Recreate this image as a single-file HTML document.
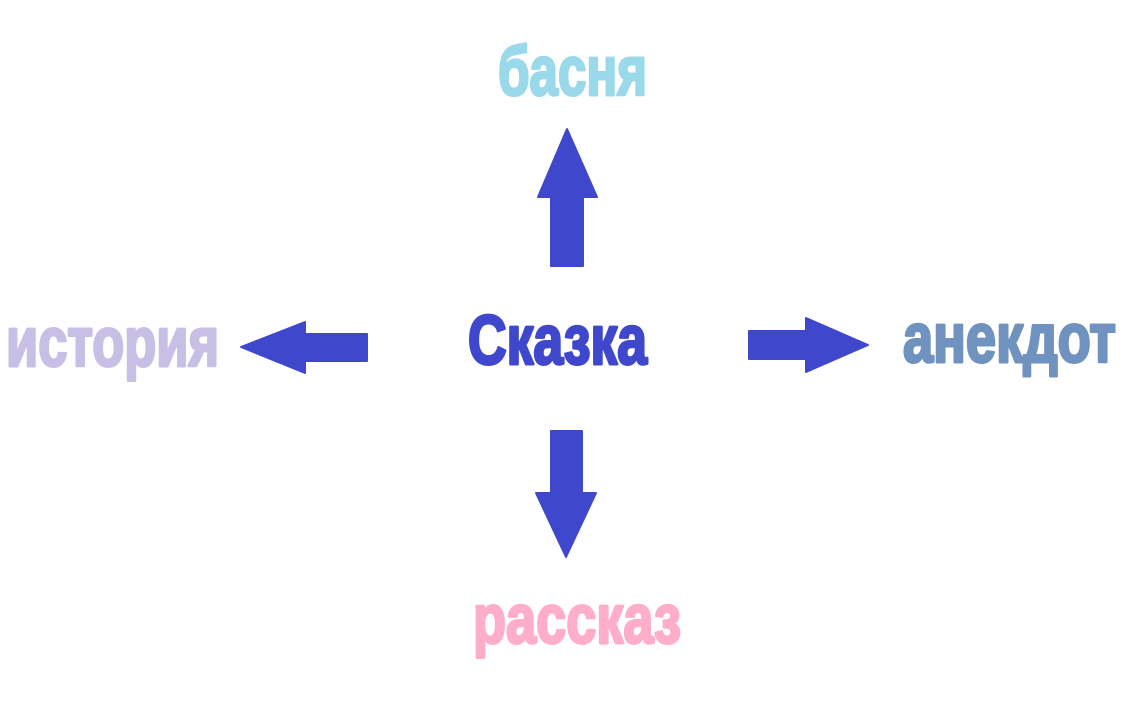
<!DOCTYPE html>
<html><head><meta charset="utf-8"><style>html,body{margin:0;padding:0;background:#fff;width:1131px;height:714px;overflow:hidden}</style></head>
<body>
<svg width="1131" height="714" viewBox="0 0 1131 714" xmlns="http://www.w3.org/2000/svg">
<g fill="#3f48cc" stroke="#3f48cc" stroke-width="2" stroke-linejoin="round">
<polygon points="551,266 551,197 538,197 567,129 597,197 583,197 583,266"/>
<polygon points="749,331 806,331 806,318 868,345 806,372 806,359 749,359"/>
<polygon points="367,334 305,334 305,322 241,347 305,373 305,361 367,361"/>
<polygon points="551,431 582,431 582,493 596,493 566,557 536,493 551,493"/>
</g>
<g font-family="Liberation Sans, DejaVu Sans, sans-serif" font-weight="bold" font-size="70" stroke-width="3" stroke-linejoin="round">
<text x="498" y="95" fill="#99d9ea" stroke="#99d9ea" textLength="149" lengthAdjust="spacingAndGlyphs">басня</text>
<text x="468" y="364" fill="#3f48cc" stroke="#3f48cc" textLength="179" lengthAdjust="spacingAndGlyphs">Сказка</text>
<text x="6" y="366" fill="#c8bfe7" stroke="#c8bfe7" textLength="213" lengthAdjust="spacingAndGlyphs">история</text>
<text x="903" y="362" fill="#7092be" stroke="#7092be" textLength="213" lengthAdjust="spacingAndGlyphs">анекдот</text>
<text x="473" y="643" fill="#ffaec9" stroke="#ffaec9" textLength="208" lengthAdjust="spacingAndGlyphs">рассказ</text>
</g>
</svg>
</body></html>
